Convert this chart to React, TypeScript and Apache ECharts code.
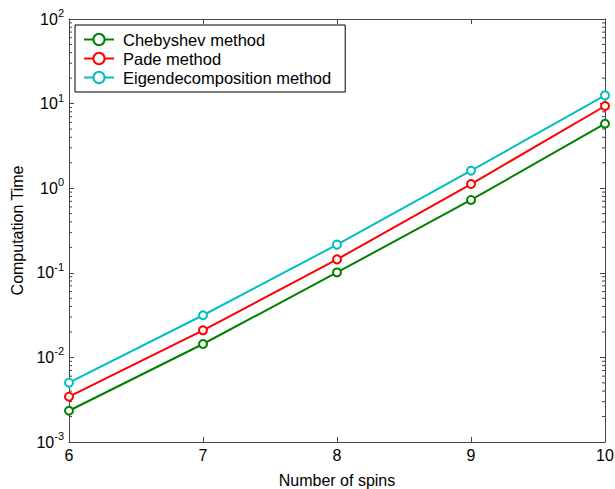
import React, { useEffect, useRef } from "react";
import * as echarts from "echarts";

const spins = [6, 7, 8, 9, 10];
const chebyshev = [0.00234, 0.0144, 0.101, 0.726, 5.78];
const pade = [0.00343, 0.0209, 0.144, 1.12, 9.37];
const eigen = [0.00502, 0.0315, 0.215, 1.61, 12.5];
const seriesNames = ["Chebyshev method", "Pade method", "Eigendecomposition method"];
const seriesColors = ["#008000", "#ff0000", "#00bfbf"];
const minorTickValues: number[] = [];
for (let k = -3; k <= 1; k++) {
  for (let m = 2; m <= 9; m++) minorTickValues.push(m * Math.pow(10, k));
}

const FONT = "Liberation Sans, Arial, sans-serif";
const AXIS_COLOR = "#444";

export default function App() {
  const ref = useRef<HTMLDivElement>(null);
  useEffect(() => {
    if (!ref.current) return;
    const chart = echarts.init(ref.current, undefined, { renderer: "svg" });
    const data = [chebyshev, pade, eigen];
    const baseY = {
      type: "log" as const,
      logBase: 10,
      min: 0.001,
      max: 100,
      splitLine: { show: false },
      axisLine: { show: true, lineStyle: { color: AXIS_COLOR, width: 1 } },
      axisTick: { show: true, inside: true, length: 5, lineStyle: { color: AXIS_COLOR } },
    };
    const option: any = {
      animation: false,
      backgroundColor: "#fff",
      textStyle: { fontFamily: FONT },
      grid: {
        left: 69,
        right: 10,
        top: 19,
        bottom: 47,
        containLabel: false,
        outerBoundsMode: "none",
      },
      legend: {
        orient: "vertical",
        left: 75,
        top: 25,
        data: seriesNames,
        itemWidth: 30,
        itemHeight: 14,
        itemGap: 2,
        padding: [6, 14, 6, 8],
        borderColor: "#000",
        borderWidth: 1,
        backgroundColor: "#fff",
        textStyle: {
          fontFamily: FONT,
          fontSize: 16.5,
          lineHeight: 17,
          color: "#000",
          padding: [0, 0, 0, 4],
        },
      },
      xAxis: [
        {
          type: "value",
          min: 6,
          max: 10,
          interval: 1,
          name: "Number of spins",
          nameLocation: "middle",
          nameGap: 30,
          nameTextStyle: { fontFamily: FONT, fontSize: 16, color: "#000" },
          axisLine: { show: true, lineStyle: { color: AXIS_COLOR } },
          axisTick: { show: true, inside: true, length: 5, lineStyle: { color: AXIS_COLOR } },
          axisLabel: { fontFamily: FONT, fontSize: 16, color: "#000", margin: 5 },
          splitLine: { show: false },
        },
        {
          type: "value",
          position: "top",
          min: 6,
          max: 10,
          interval: 1,
          axisLine: { show: true, lineStyle: { color: AXIS_COLOR } },
          axisTick: { show: true, inside: true, length: 5, lineStyle: { color: AXIS_COLOR } },
          axisLabel: { show: false },
          splitLine: { show: false },
        },
      ],
      yAxis: [
        {
          ...baseY,
          position: "left",
          name: "Computation Time",
          nameLocation: "middle",
          nameGap: 42,
          nameTextStyle: { fontFamily: FONT, fontSize: 16, color: "#000" },
          axisLabel: {
            margin: 5,
            formatter: (v: number) => {
              const e = Math.round(Math.log10(v));
              return "{b|10}{s|" + e + "}";
            },
            rich: {
              b: { fontFamily: FONT, fontSize: 16, color: "#000" },
              s: { fontFamily: FONT, fontSize: 11, color: "#000", padding: [0, 0, 12, 0] },
            },
          },
        },
        {
          ...baseY,
          position: "right",
          axisLabel: { show: false },
        },
      ],
      series: [
        ...seriesNames.map((name, i) => ({
          name,
          type: "line",
          xAxisIndex: 0,
          yAxisIndex: 0,
          data: spins.map((x, j) => [x, data[i][j]]),
          symbol: "emptyCircle",
          symbolSize: 8,
          showAllSymbol: true,
          color: seriesColors[i],
          lineStyle: { color: seriesColors[i], width: 2 },
          itemStyle: { color: seriesColors[i], borderColor: seriesColors[i], borderWidth: 1.5 },
          z: 3,
        })),
        {
          type: "custom",
          name: "minorTicks",
          xAxisIndex: 0,
          yAxisIndex: 0,
          silent: true,
          z: 1,
          data: minorTickValues.map((v) => [spins[0], v]),
          renderItem: (params: any, api: any) => {
            const v = api.value(1);
            const pl = api.coord([spins[0], v]);
            const pr = api.coord([spins[spins.length - 1], v]);
            const style = { stroke: AXIS_COLOR, lineWidth: 1 };
            return {
              type: "group",
              children: [
                { type: "line", shape: { x1: pl[0], y1: pl[1], x2: pl[0] + 3, y2: pl[1] }, style },
                { type: "line", shape: { x1: pr[0], y1: pr[1], x2: pr[0] - 3, y2: pr[1] }, style },
              ],
            };
          },
        },
      ],
    };
    chart.setOption(option);
    return () => chart.dispose();
  }, []);
  return (
    <div
      ref={ref}
      style={{ position: "absolute", left: 0, top: 0, width: 615, height: 489 }}
    />
  );
}
